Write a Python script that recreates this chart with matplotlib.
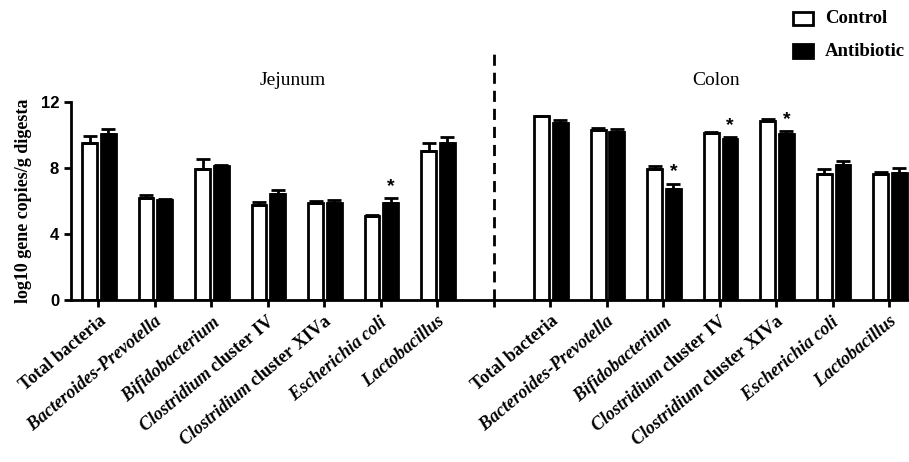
import numpy as np
import matplotlib
matplotlib.use('Agg')
import matplotlib.pyplot as plt
from matplotlib.patches import Rectangle

plt.rcParams['mathtext.fontset'] = 'custom'
plt.rcParams['mathtext.it'] = 'Liberation Serif:italic:bold'
plt.rcParams['mathtext.rm'] = 'Liberation Serif:bold'
plt.rcParams['mathtext.bf'] = 'Liberation Serif:bold'

labels = ['Total bacteria', r'$\mathit{Bacteroides}$-$\mathit{Prevotella}$',
          r'$\mathit{Bifidobacterium}$', r'$\mathit{Clostridium}$ cluster IV',
          r'$\mathit{Clostridium}$ cluster XIVa', r'$\mathit{Escherichia\ coli}$',
          r'$\mathit{Lactobacillus}$']

jej_ctrl = [9.54, 6.19, 7.92, 5.75, 5.85, 5.10, 9.01]
jej_ctrl_err = [0.40, 0.20, 0.60, 0.18, 0.15, 0.05, 0.52]
jej_anti = [10.04, 6.05, 8.10, 6.41, 5.89, 5.87, 9.54]
jej_anti_err = [0.30, 0.08, 0.08, 0.28, 0.15, 0.28, 0.34]

col_ctrl = [11.13, 10.30, 7.93, 10.14, 10.85, 7.66, 7.66]
col_ctrl_err = [0.05, 0.10, 0.18, 0.05, 0.14, 0.30, 0.10]
col_anti = [10.73, 10.20, 6.72, 9.78, 10.08, 8.16, 7.70]
col_anti_err = [0.20, 0.16, 0.32, 0.10, 0.16, 0.29, 0.30]

jej_star = [False, False, False, False, False, True, False]
col_star = [False, False, True, True, True, False, False]

ctrl = jej_ctrl + col_ctrl
ctrl_err = jej_ctrl_err + col_ctrl_err
anti = jej_anti + col_anti
anti_err = jej_anti_err + col_anti_err
stars = jej_star + col_star
x = np.r_[np.arange(7), np.arange(8, 15)]

fig = plt.figure(figsize=(9.09, 4.62), dpi=100)
ax = fig.add_axes([0.078, 0.351, 0.922, 0.428])

w = 0.26
ax.bar(x - 0.15, ctrl, w, color='white', edgecolor='black', linewidth=2,
       yerr=[np.zeros(14), ctrl_err], error_kw=dict(ecolor='black', elinewidth=2, capsize=5, capthick=2))
ax.bar(x + 0.18, anti, w, color='black', edgecolor='black', linewidth=2,
       yerr=[np.zeros(14), anti_err], error_kw=dict(ecolor='black', elinewidth=2, capsize=5, capthick=2))

for xi, v, e, s in zip(x, anti, anti_err, stars):
    if s:
        ax.text(xi + 0.18, v + e + 0.2, '*', ha='center', va='bottom', fontsize=14,
                fontweight='bold', family='Liberation Sans')

ax.plot([7, 7], [0, 15.3], ls='--', color='black', lw=2, dashes=(4, 2.5), clip_on=False)

ax.set_xlim(-0.48, 14.35)
ax.set_ylim(0, 12)
ax.set_yticks([0, 4, 8, 12])
ax.set_xticks(np.arange(15))
ax.set_xticklabels(labels + [''] + labels, rotation=40, ha='right', rotation_mode='anchor',
                   family='Liberation Serif', fontweight='bold', fontsize=13)
for t in ax.get_yticklabels():
    t.set_family('Liberation Sans')
    t.set_fontweight('bold')
    t.set_fontsize(12)
ax.tick_params(width=2, length=5, direction='out')
ax.tick_params(axis='x', pad=4)
for sp in ['top', 'right']:
    ax.spines[sp].set_visible(False)
for sp in ['left', 'bottom']:
    ax.spines[sp].set_linewidth(2)

ax.set_ylabel('log10 gene copies/g digesta', family='Liberation Serif', fontweight='bold',
              fontsize=13, labelpad=6)

ax.text(3.44, 13.3, 'Jejunum', ha='center', va='center', family='Liberation Serif', fontsize=14)
ax.text(10.93, 13.3, 'Colon', ha='center', va='center', family='Liberation Serif', fontsize=14)

# legend drawn in figure pixels
W, H = 909, 462
for (y0, y1), fc, lab in [((12, 25), 'white', 'Control'), ((44, 58), 'black', 'Antibiotic')]:
    fig.patches.append(Rectangle((793 / W, 1 - y1 / H), 20 / W, (y1 - y0) / H,
                                 transform=fig.transFigure, facecolor=fc, edgecolor='black',
                                 linewidth=2))
    fig.text(825 / W, 1 - (y0 + y1) / 2 / H, lab, ha='left', va='center',
             family='Liberation Serif', fontweight='bold', fontsize=13.5)

fig.savefig('out.png', dpi=100)
